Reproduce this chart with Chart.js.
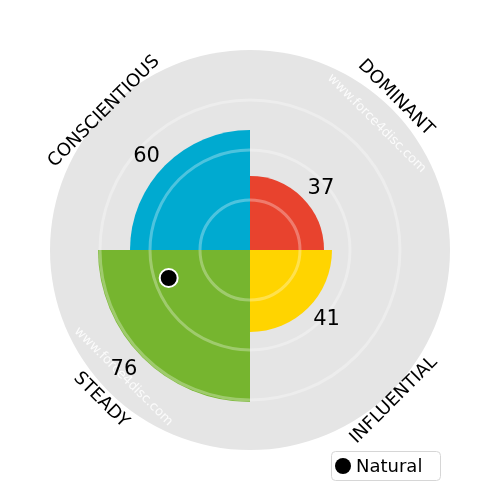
<!DOCTYPE html>
<html>
<head>
<meta charset="utf-8">
<script src="https://cdn.jsdelivr.net/npm/chart.js@4"></script>
<style>
  html, body { margin: 0; padding: 0; background: #ffffff; }
  #wrap { width: 500px; height: 500px; }
</style>
</head>
<body>
<div id="wrap"><canvas id="disc"></canvas></div>
<script>
// データ
const styleLabels = ['DOMINANT', 'INFLUENTIAL', 'STEADY', 'CONSCIENTIOUS'];
const styleScores = [37, 41, 76, 60];
const styleColors = ['#e8432e', '#ffd400', '#76b52f', '#00aad0'];
const naturalLabel = 'Natural';
const naturalAngle = 251;   // 上から時計回りの角度（度）
const naturalScore = 43;
const watermarkText = 'www.force4disc.com';
const gridValues = [25, 50, 75];

const FONT = '"DejaVu Sans", sans-serif';

// 外側ラベルの配置（角度・半径・回転）
const labelAngles = [43.8, 136.2, 224.8, 313.5];
const labelRadius = [210.8, 207.9, 211.4, 201.2];
const labelRotations = [45, -45, 45, -45];

// 上から時計回りの角度(度)と半径から座標を得る
function polarXY(scale, deg, r) {
    const a = (deg - 90) * Math.PI / 180;
    return { x: scale.xCenter + Math.cos(a) * r, y: scale.yCenter + Math.sin(a) * r };
}

function drawRotatedText(ctx, text, x, y, rot, font, color) {
    ctx.save();
    ctx.translate(x, y);
    ctx.rotate(rot * Math.PI / 180);
    ctx.font = font;
    ctx.fillStyle = color;
    ctx.textAlign = 'center';
    ctx.textBaseline = 'middle';
    ctx.fillText(text, 0, 0);
    ctx.restore();
}

const discPlugin = {
    id: 'disc',
    beforeDatasetsDraw(chart) {
        // 背景の灰色の円
        const scale = chart.scales.r;
        const ctx = chart.ctx;
        ctx.save();
        ctx.beginPath();
        ctx.arc(scale.xCenter, scale.yCenter, scale.drawingArea, 0, Math.PI * 2);
        ctx.fillStyle = '#e5e5e5';
        ctx.fill();
        ctx.restore();

        // 透かし
        const wr = scale.drawingArea * 0.895;
        let p = polarXY(scale, 45, wr);
        drawRotatedText(ctx, watermarkText, p.x, p.y, 45, '13px ' + FONT, 'rgba(255,255,255,0.85)');
        p = polarXY(scale, 225, wr);
        drawRotatedText(ctx, watermarkText, p.x, p.y, 45, '13px ' + FONT, 'rgba(255,255,255,0.85)');
    },
    afterDraw(chart) {
        const scale = chart.scales.r;
        const ctx = chart.ctx;

        // 外側のラベル
        styleLabels.forEach((label, i) => {
            const p = polarXY(scale, labelAngles[i], labelRadius[i]);
            drawRotatedText(ctx, label, p.x, p.y, labelRotations[i], '18px ' + FONT, '#000000');
        });

        // 値ラベル（外側へ少しずらす）
        styleScores.forEach((v, i) => {
            const r = scale.getDistanceFromCenterForValue(v) + 20;
            const p = polarXY(scale, i * 90 + 45, r);
            const sx = (i < 2) ? 1 : -1;
            const sy = (i === 0 || i === 3) ? -1 : 1;
            drawRotatedText(ctx, String(v), p.x + sx * 4.5, p.y - sy * 4 + 1.5, 0, '21px ' + FONT, '#000000');
        });

        // Natural の点
        const np = polarXY(scale, naturalAngle, scale.getDistanceFromCenterForValue(naturalScore));
        ctx.save();
        ctx.beginPath();
        ctx.arc(np.x, np.y, 9, 0, Math.PI * 2);
        ctx.fillStyle = '#000000';
        ctx.fill();
        ctx.lineWidth = 2;
        ctx.strokeStyle = '#ffffff';
        ctx.stroke();
        ctx.restore();

        // 凡例
        ctx.save();
        ctx.beginPath();
        ctx.roundRect(331.5, 451.5, 109, 29, 4);
        ctx.fillStyle = 'rgba(255,255,255,0.9)';
        ctx.fill();
        ctx.strokeStyle = '#d6d6d6';
        ctx.lineWidth = 1;
        ctx.stroke();
        ctx.beginPath();
        ctx.arc(343, 466, 8, 0, Math.PI * 2);
        ctx.fillStyle = '#000000';
        ctx.fill();
        ctx.font = '18px ' + FONT;
        ctx.textAlign = 'left';
        ctx.textBaseline = 'middle';
        ctx.fillText(naturalLabel, 356, 467);
        ctx.restore();
    }
};

new Chart(document.getElementById('disc'), {
    type: 'polarArea',
    data: {
        labels: styleLabels,
        datasets: [{
            data: styleScores,
            backgroundColor: styleColors,
            borderWidth: 0
        }]
    },
    options: {
        animation: false,
        responsive: true,
        maintainAspectRatio: false,
        layout: { padding: 50 },
        plugins: { legend: { display: false }, tooltip: { enabled: false } },
        scales: {
            r: {
                min: 0,
                max: 100,
                afterBuildTicks: (scale) => {
                    scale.ticks = [0].concat(gridValues, [100]).map(v => ({ value: v }));
                },
                ticks: { display: false },
                pointLabels: { display: false },
                angleLines: { display: false },
                grid: {
                    z: 1,
                    circular: true,
                    lineWidth: 3,
                    color: (c) => (c.tick && c.tick.value === 100) ? 'rgba(0,0,0,0)' : 'rgba(255,255,255,0.3)'
                }
            }
        }
    },
    plugins: [discPlugin]
});
</script>
</body>
</html>
